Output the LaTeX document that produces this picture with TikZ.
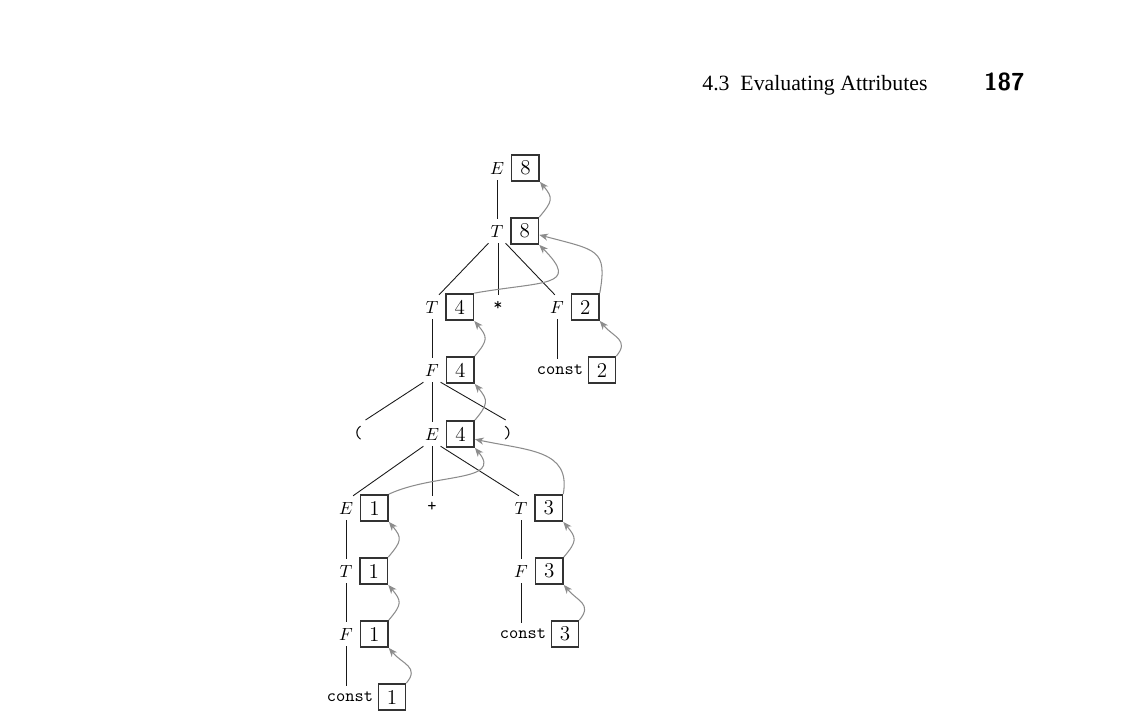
\documentclass[tikz,border=0pt]{standalone}
\usepackage{fontspec}
\usepackage{tikz}
\usetikzlibrary{positioning,arrows.meta}
\newfontfamily\headfont{Liberation Serif}

\begin{document}
\begin{tikzpicture}[x=0.02cm,y=0.02cm]
  \tikzstyle{val}=[rectangle,draw=black!80,line width=0.8pt,minimum width=15.6pt,minimum height=15pt,inner sep=1pt,font=\fontsize{12}{14}\selectfont]
  \tikzstyle{edge}=[draw=black!90,line width=0.5pt]
  \tikzstyle{dep}=[draw=black!45,line width=0.6pt,-{Stealth[length=5pt,width=4pt,inset=1.5pt]}]
  \tikzstyle{hop}=[out=50,in=-50,distance=12pt]
  \useasboundingbox (0,0) rectangle (1128,-721);
  % running head
  \node(head)[anchor=base west,inner sep=0,font=\headfont\fontsize{12.4}{14}\selectfont] at (702,-90) {4.3\enspace Evaluating Attributes};
  \node(page)[anchor=base east,inner sep=0,font=\fontsize{14}{16}\selectfont\sffamily\bfseries] at (1025,-90) {187};
  % parse tree
  \node(e0) at (497,-168) {$E$};
  \node(e0v)[val,right=0.5pt of e0] {8};
  \node(t1) at (497,-231) {$T$};
  \node(t1v)[val,right=0.5pt of t1] {8};
  \node(t2) at (432,-307) {$T$};
  \node(t2v)[val,right=0.5pt of t2] {4};
  \node(star) at (498,-306) {\texttt{*}};
  \node(f1) at (557,-307) {$F$};
  \node(f1v)[val,right=0.5pt of f1] {2};
  \node(f2) at (432,-370) {$F$};
  \node(f2v)[val,right=0.5pt of f2] {4};
  \node(c1) at (560,-370) {\texttt{const}};
  \node(c1v)[val,right=-1pt of c1] {2};
  \node(lp) at (358,-433) {\texttt{(}};
  \node(e1) at (432,-434) {$E$};
  \node(e1v)[val,right=0.5pt of e1] {4};
  \node(rp) at (508,-433) {\texttt{)}};
  \node(e2) at (346,-508) {$E$};
  \node(e2v)[val,right=0.5pt of e2] {1};
  \node(plus) at (432,-507) {\texttt{+}};
  \node(t3) at (521,-508) {$T$};
  \node(t3v)[val,right=0.5pt of t3] {3};
  \node(t4) at (346,-571) {$T$};
  \node(t4v)[val,right=0.5pt of t4] {1};
  \node(f3) at (521,-571) {$F$};
  \node(f3v)[val,right=0.5pt of f3] {3};
  \node(f4) at (346,-634) {$F$};
  \node(f4v)[val,right=0.5pt of f4] {1};
  \node(c2) at (523,-634) {\texttt{const}};
  \node(c2v)[val,right=-1pt of c2] {3};
  \node(c3) at (350,-697) {\texttt{const}};
  \node(c3v)[val,right=-1pt of c3] {1};
  \draw[edge] (e0) -- (t1);
  \draw[edge] (t1.-125) -- (t2.60);
  \draw[edge] (t1.south -| star) -- (star);
  \draw[edge] (t1.-55) -- (f1.100);
  \draw[edge] (t2) -- (f2);
  \draw[edge] (f1) -- (c1.north -| f1);
  \draw[edge] (f2.-125) -- (lp.60);
  \draw[edge] (f2) -- (e1);
  \draw[edge] (f2.-55) -- (rp.100);
  \draw[edge] (e1.-125) -- (e2.60);
  \draw[edge] (e1) -- (plus);
  \draw[edge] (e1.-55) -- (t3.100);
  \draw[edge] (e2) -- (t4);
  \draw[edge] (t4) -- (f4);
  \draw[edge] (f4) -- (c3.north -| f4);
  \draw[edge] (t3) -- (f3);
  \draw[edge] (f3) -- (c2.north -| f3);
  % attribute flow
  \draw[dep] (t1v.north east) to[hop] (e0v.south east);
  \draw[dep] (t2v.north east) .. controls +(10:70) and +(-45:60) .. (t1v.south east);
  \draw[dep] (f1v.north east) .. controls +(80:45) and +(-15:60) .. (t1v.-15);
  \draw[dep] (f2v.north east) to[hop] (t2v.south east);
  \draw[dep] (e1v.north east) to[hop] (f2v.south east);
  \draw[dep] (e2v.north east) .. controls +(25:50) and +(-50:45) .. (e1v.south east);
  \draw[dep] (t3v.north east) .. controls +(80:45) and +(-12:55) .. (e1v.-20);
  \draw[dep] (t4v.north east) to[hop] (e2v.south east);
  \draw[dep] (f4v.north east) to[hop] (t4v.south east);
  \draw[dep] (c3v.north east) to[hop] (f4v.south east);
  \draw[dep] (f3v.north east) to[hop] (t3v.south east);
  \draw[dep] (c2v.north east) to[hop] (f3v.south east);
  \draw[dep] (c1v.north east) to[hop] (f1v.south east);
\end{tikzpicture}
\end{document}
